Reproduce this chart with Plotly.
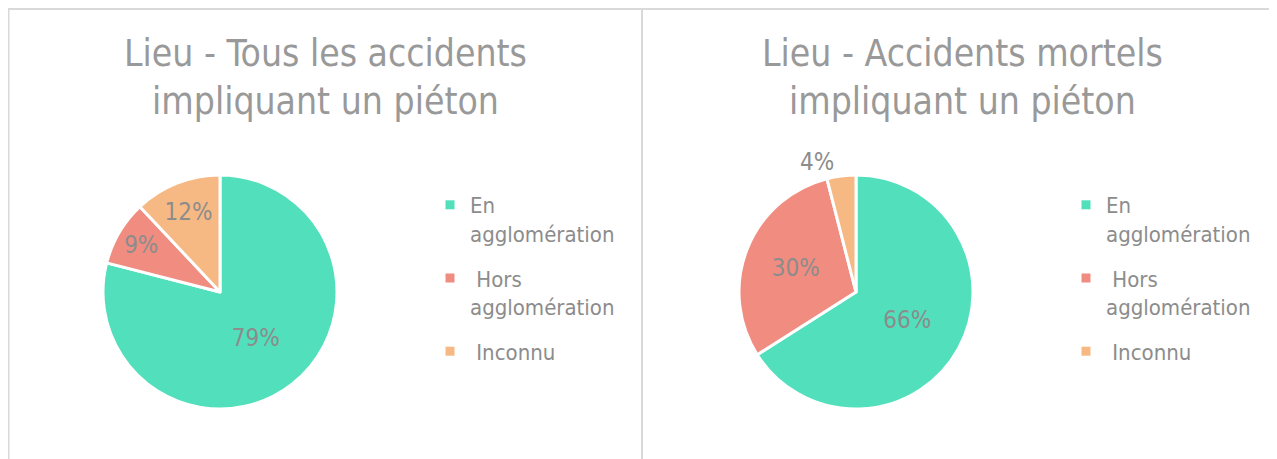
import plotly.graph_objects as go

labels = ["En<br>agglomération", "\u00a0Hors<br>agglomération", "\u00a0Inconnu"]
values_all = [79, 9, 12]
values_fatal = [66, 30, 4]
colors = ["#52DFBB", "#F08C80", "#F7B984"]
titles = ["Lieu - Tous les accidents<br>impliquant un piéton",
          "Lieu - Accidents mortels<br>impliquant un piéton"]

# page body has an 8px margin: figure pixels = screenshot pixels - 8
OFF = 8
W, H = 1277 - OFF, 459 - OFF
FONT = "DejaVu Sans Condensed, DejaVu Sans, sans-serif"
TXT = "#8C8C8C"

def fx(px):
    return (px - OFF) / W

def fy(py):
    return 1 - (py - OFF) / H

def dom(x0, x1, y0, y1):
    return dict(x=[fx(x0), fx(x1)], y=[fy(y1), fy(y0)])

fig = go.Figure()
pie_common = dict(
    labels=labels, sort=False, direction="clockwise", rotation=0,
    marker=dict(colors=colors, line=dict(color="white", width=3)),
    texttemplate="%{percent:.0%}", insidetextorientation="horizontal",
    textfont=dict(family=FONT, size=24, color=TXT), showlegend=False,
    hoverinfo="label+percent",
)
fig.add_trace(go.Pie(values=values_all, textposition="inside",
                     domain=dom(103, 337, 175, 409), **pie_common))
fig.add_trace(go.Pie(values=values_fatal, textposition=["inside", "inside", "outside"],
                     domain=dom(739, 973, 175, 409), **pie_common))

# legend entries (one per category, for each panel)
for leg, grp in (("legend", "a"), ("legend2", "b")):
    for lab, col in zip(labels, colors):
        fig.add_trace(go.Scatter(
            x=[None], y=[None], mode="markers", name=lab, legend=leg,
            legendgroup=grp + lab, showlegend=True,
            marker=dict(symbol="square", size=9, color=col),
        ))

legend_common = dict(font=dict(family=FONT, size=22, color=TXT), bgcolor="rgba(0,0,0,0)",
                     itemwidth=30, yanchor="top", xanchor="left", tracegroupgap=13,
                     valign="top")

LINE = "#D9D9D9"
shapes = [
    dict(type="line", xref="paper", yref="paper", x0=0, x1=1, y0=fy(9), y1=fy(9),
         line=dict(color=LINE, width=2)),
    dict(type="line", xref="paper", yref="paper", x0=fx(8.5), x1=fx(8.5), y0=0, y1=fy(9),
         line=dict(color=LINE, width=2)),
    dict(type="line", xref="paper", yref="paper", x0=fx(642), x1=fx(642), y0=0, y1=fy(9),
         line=dict(color=LINE, width=2)),
]

annotations = [
    dict(text=titles[0], x=fx(325), y=fy(30), xref="paper", yref="paper",
         xanchor="center", yanchor="top", showarrow=False,
         font=dict(family=FONT, size=37, color="#999999")),
    dict(text=titles[1], x=fx(962), y=fy(30), xref="paper", yref="paper",
         xanchor="center", yanchor="top", showarrow=False,
         font=dict(family=FONT, size=37, color="#999999")),
]

fig.update_layout(
    width=W, height=H, margin=dict(l=0, r=0, t=0, b=0),
    paper_bgcolor="white", plot_bgcolor="white",
    xaxis=dict(visible=False), yaxis=dict(visible=False),
    legend=dict(x=fx(430), y=fy(184), **legend_common),
    legend2=dict(x=fx(1066), y=fy(184), **legend_common),
    uniformtext=dict(minsize=24, mode="show"),
    shapes=shapes, annotations=annotations,
)

fig.write_html("out.html")
